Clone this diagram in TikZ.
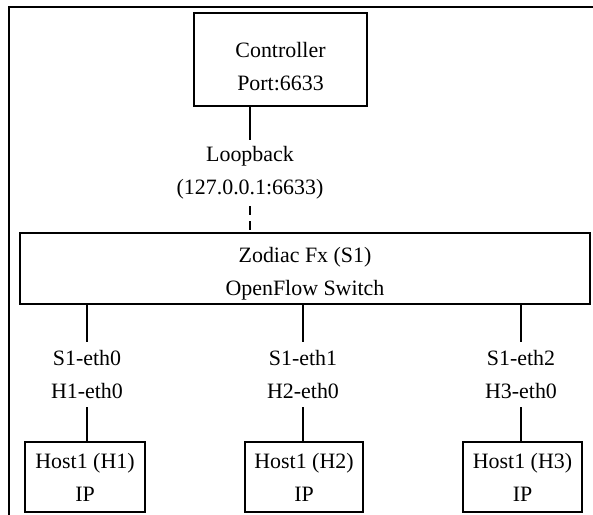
\documentclass[tikz,border=0pt]{standalone}
\usepackage{fontspec}
\setmainfont{Liberation Serif}
\begin{document}
\begin{tikzpicture}[x=1bp,y=1bp,
  box/.style={draw,rectangle,line width=1.2bp,inner sep=0pt,align=center},
  lbl/.style={rectangle,inner sep=0pt,align=center},
  wire/.style={line width=1.1bp},
  loopwire/.style={line width=2.4bp},
  font=\fontsize{22}{33}\selectfont]
  \useasboundingbox (0,0) rectangle (593,515);
  \clip (0,0) rectangle (593,515);
  \draw [line width=1.2bp] (9,508) rectangle (610,-20);
  \node (Ctrl) at (280.5bp,455.5bp) [box,minimum width=173bp,minimum height=93bp] {\rule{0pt}{29bp}Controller\\Port:6633};
  \node (Loop) at (250bp,342bp) [lbl,minimum height=66bp] {Loopback\\(127.0.0.1:6633)};
  \node (S1) at (305bp,246.5bp) [box,minimum width=570bp,minimum height=71bp] {\rule{0pt}{25bp}Zodiac Fx (S1)\\OpenFlow Switch};
  \node (P0) at (87bp,140.5bp) [lbl,minimum height=65bp] {S1-eth0\\H1-eth0};
  \node (P1) at (303bp,140.5bp) [lbl,minimum height=65bp] {S1-eth1\\H2-eth0};
  \node (P2) at (521bp,140.5bp) [lbl,minimum height=65bp] {S1-eth2\\H3-eth0};
  \node (H1) at (85bp,38bp) [box,minimum width=120bp,minimum height=70bp] {Host1 (H1)\\IP};
  \node (H2) at (304bp,38bp) [box,minimum width=118bp,minimum height=70bp] {Host1 (H2)\\IP};
  \node (H3) at (522.5bp,38bp) [box,minimum width=119bp,minimum height=70bp] {Host1 (H3)\\IP};
  \draw [loopwire] (Ctrl.south -| Loop) -- (Loop.north);
  \draw [loopwire,dash pattern=on 9bp off 6bp] (Loop.south) -- (S1.north -| Loop);
  \draw [wire] (S1.south -| P0) -- (P0.north);
  \draw [wire] (P0.south) -- (H1.north -| P0);
  \draw [wire] (S1.south -| P1) -- (P1.north);
  \draw [wire] (P1.south) -- (H2.north -| P1);
  \draw [wire] (S1.south -| P2) -- (P2.north);
  \draw [wire] (P2.south) -- (H3.north -| P2);
\end{tikzpicture}
\end{document}
